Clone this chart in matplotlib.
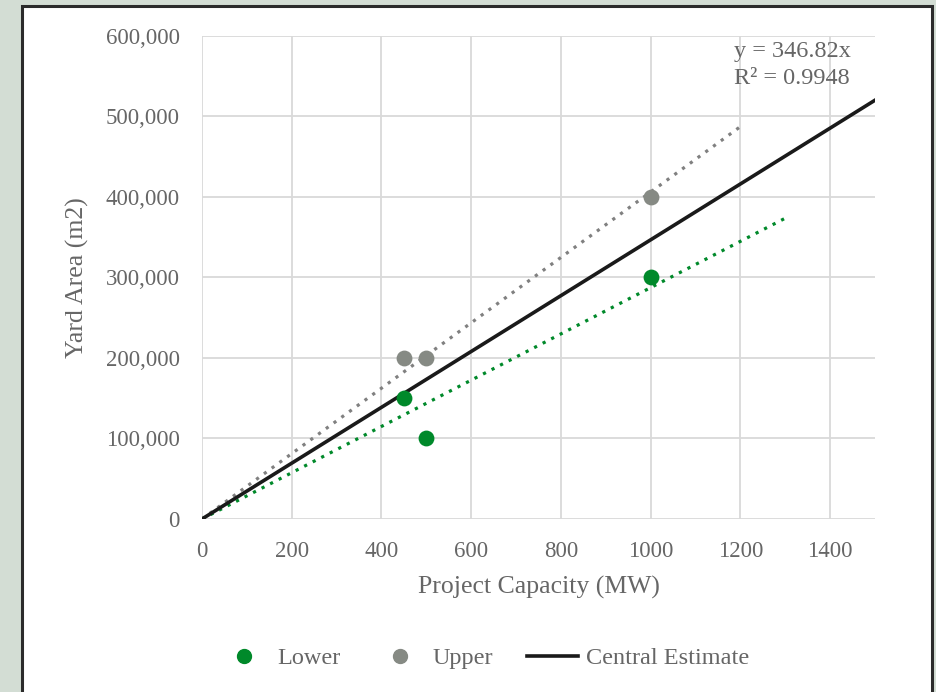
import numpy as np
import matplotlib.pyplot as plt
from matplotlib.patches import Rectangle
from matplotlib.lines import Line2D
from matplotlib.ticker import FuncFormatter

# data
lower_x = [450, 500, 1000]
lower_y = [150000, 100000, 300000]
upper_x = [450, 500, 1000]
upper_y = [200000, 200000, 400000]
central_slope = 346.82
r2 = 0.9948

plt.rcParams['font.family'] = ['Liberation Serif', 'DejaVu Serif']
txt = '#666666'
green = '#00892a'
grey = '#868a84'

fig = plt.figure(figsize=(9.37, 6.92), dpi=100)
fig.patch.set_facecolor('#d3ddd4')
# white panel with dark border
fig.patches.append(Rectangle((22 / 937, -0.05), 910 / 937, 1.05 - 6 / 692,
                             transform=fig.transFigure, facecolor='white',
                             edgecolor='#2b2b2b', linewidth=2.2, zorder=-5))

ax = fig.add_axes([202 / 937, 0.25, 673 / 937, 0.698])
ax.set_facecolor('white')

# trendlines through origin (least squares)
lx = np.array(lower_x); ly = np.array(lower_y)
ux = np.array(upper_x); uy = np.array(upper_y)
lower_slope = (lx * ly).sum() / (lx ** 2).sum()
upper_slope = (ux * uy).sum() / (ux ** 2).sum()

xs = np.array([0, 1200])
ax.plot(xs, upper_slope * xs, linestyle=(0, (1, 2)), color='#808080', lw=2.3, zorder=2)
xs = np.array([0, 1300])
ax.plot(xs, lower_slope * xs, linestyle=(0, (1, 2)), color=green, lw=2.3, zorder=2)
xs = np.array([0, 1500])
ax.plot(xs, central_slope * xs, color='#1a1a1a', lw=2.6, zorder=3)

ax.scatter(upper_x, upper_y, s=130, color=grey, zorder=4, linewidths=0)
ax.scatter(lower_x, lower_y, s=130, color=green, zorder=4, linewidths=0)

ax.set_xlim(0, 1500)
ax.set_ylim(0, 600000)
ax.set_xticks(np.arange(0, 1401, 200))
ax.set_yticks(np.arange(0, 600001, 100000))
ax.yaxis.set_major_formatter(FuncFormatter(lambda v, p: f'{int(v):,}'))
ax.grid(True, color='#d9d9d9', lw=1.3)
ax.set_axisbelow(True)
for s in ax.spines.values():
    s.set_visible(False)
ax.tick_params(length=0, labelsize=16.5, colors=txt)
ax.tick_params(axis='x', pad=16)
ax.tick_params(axis='y', pad=16)

ax.set_xlabel('Project Capacity (MW)', fontsize=18.5, color=txt, labelpad=10)
ax.set_ylabel('Yard Area (m2)', fontsize=18.5, color=txt, labelpad=12)

ax.text(0.877, 0.99, f'y = {central_slope}x\nR² = {r2}', transform=ax.transAxes,
        ha='center', va='top', fontsize=17.5, color=txt, linespacing=1.4)

handles = [Line2D([], [], marker='o', ls='none', color=green, markersize=10),
           Line2D([], [], marker='o', ls='none', color=grey, markersize=10),
           Line2D([], [], color='#1a1a1a', lw=2.6)]
leg = fig.legend(handles, ['Lower', 'Upper', 'Central Estimate'], loc='center',
                 bbox_to_anchor=(484 / 937, 1 - 658 / 692), ncol=3, frameon=False,
                 fontsize=17.5, columnspacing=1.4, handletextpad=0.3, handlelength=2.1)
for t in leg.get_texts():
    t.set_color(txt)

fig.savefig('out.png', dpi=100, facecolor=fig.get_facecolor())
